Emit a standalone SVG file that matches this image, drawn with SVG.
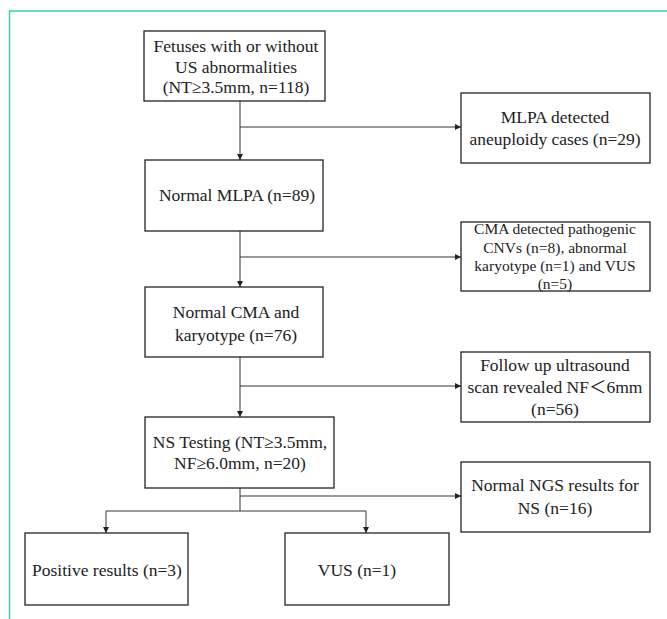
<svg xmlns="http://www.w3.org/2000/svg" width="667" height="619" viewBox="0 0 667 619">
<defs>
<style>
.box{fill:#fff;stroke:#222;stroke-width:1.3}
.t{font-family:"Liberation Serif","Times New Roman","Noto Sans CJK SC",serif;font-size:17.5px;fill:#222;text-anchor:middle}
.s{font-size:15.5px}
.c{fill:none;stroke:#333;stroke-width:1}
.frame{fill:none;stroke:#3ecdb3;stroke-width:1.5}
</style>
<marker id="ah" viewBox="0 0 8 8" refX="8" refY="4" markerWidth="6" markerHeight="6" orient="auto" markerUnits="userSpaceOnUse">
<path d="M0,0 L8,4 L0,8 z" fill="#222"/>
</marker>
</defs>
<rect width="667" height="619" fill="#fff"/>
<path class="frame" d="M9.5,619 V11 H667"/>
<g id="connectors">
<path class="c" d="M240,101 V160" marker-end="url(#ah)"/>
<path class="c" d="M240,127 H461" marker-end="url(#ah)"/>
<path class="c" d="M240,231 V287" marker-end="url(#ah)"/>
<path class="c" d="M240,257 H461" marker-end="url(#ah)"/>
<path class="c" d="M240,357 V417" marker-end="url(#ah)"/>
<path class="c" d="M240,386 H461" marker-end="url(#ah)"/>
<path class="c" d="M240,488 V511"/>
<path class="c" d="M240,496 H461" marker-end="url(#ah)"/>
<path class="c" d="M106,511 H366"/>
<path class="c" d="M106,511 V533" marker-end="url(#ah)"/>
<path class="c" d="M366,511 V533" marker-end="url(#ah)"/>
</g>
<g id="n1">
<rect class="box" x="144" y="31" width="181" height="70"/>
<text class="t" x="236" y="52">Fetuses with or without</text>
<text class="t" x="236" y="72.5">US abnormalities</text>
<text class="t" x="236" y="93">(NT≥3.5mm, n=118)</text>
</g>
<g id="n2">
<rect class="box" x="461" y="93" width="189" height="70"/>
<text class="t" x="555" y="123">MLPA detected</text>
<text class="t" x="555" y="145">aneuploidy cases (n=29)</text>
</g>
<g id="n3">
<rect class="box" x="145" y="160" width="178" height="71"/>
<text class="t" x="237" y="201">Normal MLPA (n=89)</text>
</g>
<g id="n4">
<rect class="box" x="461" y="222" width="189" height="69"/>
<text class="t s" x="555" y="234">CMA detected pathogenic</text>
<text class="t s" x="555" y="253">CNVs (n=8), abnormal</text>
<text class="t s" x="555" y="271">karyotype (n=1) and VUS</text>
<text class="t s" x="555" y="289">(n=5)</text>
</g>
<g id="n5">
<rect class="box" x="145" y="287" width="178" height="70"/>
<text class="t" x="236" y="318">Normal CMA and</text>
<text class="t" x="236" y="341">karyotype (n=76)</text>
</g>
<g id="n6">
<rect class="box" x="461" y="352" width="189" height="70"/>
<text class="t" x="555" y="371">Follow up ultrasound</text>
<text class="t" x="555" y="393">scan revealed NF＜6mm</text>
<text class="t" x="555" y="415">(n=56)</text>
</g>
<g id="n7">
<rect class="box" x="145" y="417" width="189" height="71"/>
<text class="t" x="240" y="448">NS Testing (NT≥3.5mm,</text>
<text class="t" x="240" y="469">NF≥6.0mm, n=20)</text>
</g>
<g id="n8">
<rect class="box" x="461" y="462" width="189" height="70"/>
<text class="t" x="555" y="491">Normal NGS results for</text>
<text class="t" x="555" y="514">NS (n=16)</text>
</g>
<g id="n9">
<rect class="box" x="25" y="533" width="163" height="72"/>
<text class="t" x="107" y="576">Positive results (n=3)</text>
</g>
<g id="n10">
<rect class="box" x="285" y="533" width="164" height="72"/>
<text class="t" x="357" y="576">VUS (n=1)</text>
</g>
</svg>
